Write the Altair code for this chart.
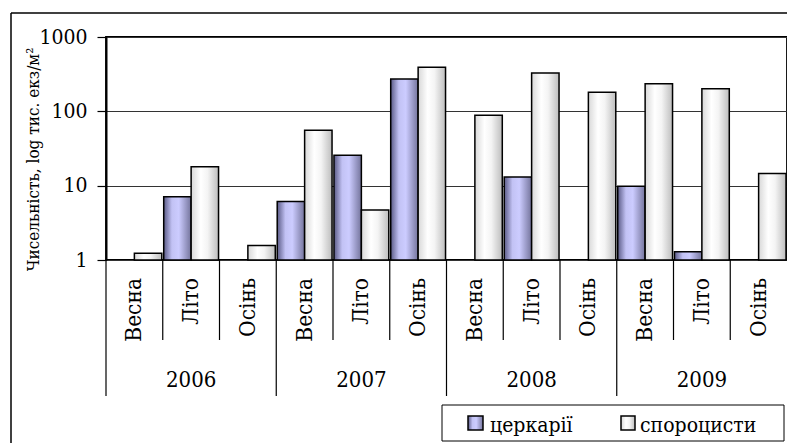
import altair as alt
import pandas as pd

# Categories
years = ["2006", "2007", "2008", "2009"]
seasons = ["Весна", "Літо", "Осінь"]
series_names = ["церкарії", "спороцисти"]

# Abundance, thousand ind./m² (None = not found)
cercariae = [None, 7.1, None, 6.1, 25.6, 273, None, 13.1, None, 9.8, 1.29, None]
sporocysts = [1.23, 17.9, 1.57, 55.6, 4.7, 393, 88.4, 327, 181, 235, 201, 14.6]

y_ticks = [1, 10, 100, 1000]

FONT = "DejaVu Serif Condensed, DejaVu Serif"

rows = []
keys = []
i = 0
for yr in years:
    for s in seasons:
        key = f"{yr} {s}"
        keys.append(key)
        rows.append(dict(key=key, year=yr, season=s, series=series_names[0], value=cercariae[i]))
        rows.append(dict(key=key, year=yr, season=s, series=series_names[1], value=sporocysts[i]))
        i += 1
df = pd.DataFrame(rows)
cats = df.drop_duplicates("key")[["key", "year", "season"]]
one = pd.DataFrame({"k": [0]})

W, H = 681, 223

x_enc = alt.X("key:N", sort=keys,
              scale=alt.Scale(domain=keys, paddingInner=0, paddingOuter=0),
              axis=None)

grad_blue = alt.LinearGradient(
    gradient="linear", x1=0, x2=1, y1=0, y2=0,
    stops=[alt.GradientStop(color="#5a5a86", offset=0),
           alt.GradientStop(color="#c2c2f4", offset=0.3),
           alt.GradientStop(color="#ccccff", offset=0.55),
           alt.GradientStop(color="#74749c", offset=1)])
grad_white = alt.LinearGradient(
    gradient="linear", x1=0, x2=1, y1=0, y2=0,
    stops=[alt.GradientStop(color="#d8d8d8", offset=0),
           alt.GradientStop(color="#ffffff", offset=0.35),
           alt.GradientStop(color="#f4f4f4", offset=0.6),
           alt.GradientStop(color="#bdbdbd", offset=1)])

y_enc = alt.Y("value:Q",
              scale=alt.Scale(type="log", domain=[1, 1000], nice=False),
              axis=alt.Axis(values=y_ticks, format="d", grid=True,
                            title="Чисельність, log тис. екз/м²",
                            titleAngle=270, titleX=-68, titleY=122,
                            titleAlign="center", titleBaseline="alphabetic"))

base = alt.Chart(df).transform_filter("isValid(datum.value)")
xoff = alt.XOffset("series:N", sort=series_names,
                   scale=alt.Scale(domain=series_names, paddingOuter=0.035))

bars_c = base.transform_filter(alt.datum.series == series_names[0]).mark_bar(
    fill=grad_blue, stroke="black", strokeWidth=1.5
).encode(x=x_enc, xOffset=xoff, y=y_enc, y2=alt.datum(1))

bars_s = base.transform_filter(alt.datum.series == series_names[1]).mark_bar(
    fill=grad_white, stroke="black", strokeWidth=1.5
).encode(x=x_enc, xOffset=xoff, y=y_enc, y2=alt.datum(1))

cat_base = alt.Chart(cats)

# Category separators below the plot
sep_season = cat_base.transform_filter(alt.datum.season != seasons[0]).mark_rule(
    color="black", strokeWidth=1.2
).encode(x=alt.X("key:N", sort=keys, bandPosition=0, axis=None),
         y=alt.value(H), y2=alt.value(H + 80))
sep_year = cat_base.transform_filter(alt.datum.season == seasons[0]).mark_rule(
    color="black", strokeWidth=1.2
).encode(x=alt.X("key:N", sort=keys, bandPosition=0, axis=None),
         y=alt.value(H), y2=alt.value(H + 136))

season_lbl = cat_base.mark_text(
    angle=270, align="right", baseline="middle", font=FONT, fontSize=22.5,
    color="black"
).encode(x=alt.X("key:N", sort=keys, axis=None), y=alt.value(H + 18),
         text="season:N")

year_lbl = cat_base.transform_filter(alt.datum.season == seasons[1]).mark_text(
    align="center", baseline="middle", font=FONT, fontSize=22, color="black"
).encode(x=alt.X("key:N", sort=keys, axis=None), y=alt.value(H + 120),
         text="year:N")

# Outer frame lines
frame_left = alt.Chart(one).mark_rule(color="black", strokeWidth=1.5).encode(
    x=alt.value(-95), y=alt.value(-24), y2=alt.value(410))
frame_top = alt.Chart(one).mark_rule(color="black", strokeWidth=1.5).encode(
    x=alt.value(-95), x2=alt.value(W + 5), y=alt.value(-24))

# Legend
leg_box = alt.Chart(one).mark_rect(fill="white", stroke="black", strokeWidth=1).encode(
    x=alt.value(336), x2=alt.value(678), y=alt.value(368), y2=alt.value(404))
leg_sq1 = alt.Chart(one).mark_rect(fill=grad_blue, stroke="black", strokeWidth=1.5).encode(
    x=alt.value(362), x2=alt.value(377), y=alt.value(379), y2=alt.value(393))
leg_sq2 = alt.Chart(one).mark_rect(fill=grad_white, stroke="black", strokeWidth=1.5).encode(
    x=alt.value(515), x2=alt.value(529), y=alt.value(379), y2=alt.value(393))
leg_t1 = alt.Chart(one).mark_text(align="left", baseline="alphabetic", font=FONT,
                                  fontSize=21, color="black", text=series_names[0]).encode(
    x=alt.value(384), y=alt.value(395))
leg_t2 = alt.Chart(one).mark_text(align="left", baseline="alphabetic", font=FONT,
                                  fontSize=21, color="black", text=series_names[1]).encode(
    x=alt.value(534), y=alt.value(395))

chart = alt.layer(
    bars_c, bars_s, sep_season, sep_year, season_lbl, year_lbl,
    frame_left, frame_top, leg_box, leg_sq1, leg_sq2, leg_t1, leg_t2
).properties(
    width=W, height=H,
    autosize=alt.AutoSizeParams(type="none"),
    padding={"left": 106, "top": 37, "right": 0, "bottom": 183},
    background="white",
).configure_view(
    stroke="black", strokeWidth=1.8, fill="white"
).configure_axis(
    labelFont=FONT, labelFontSize=21, labelColor="black", labelPadding=10,
    tickColor="black", tickSize=9, tickWidth=1.2,
    domainColor="black", domainWidth=2,
    gridColor="#333333", gridWidth=1,
    titleFont=FONT, titleFontSize=17, titleFontWeight="normal", titleColor="black",
)

chart.save("out.html", embed_options={"renderer": "svg", "actions": False})
